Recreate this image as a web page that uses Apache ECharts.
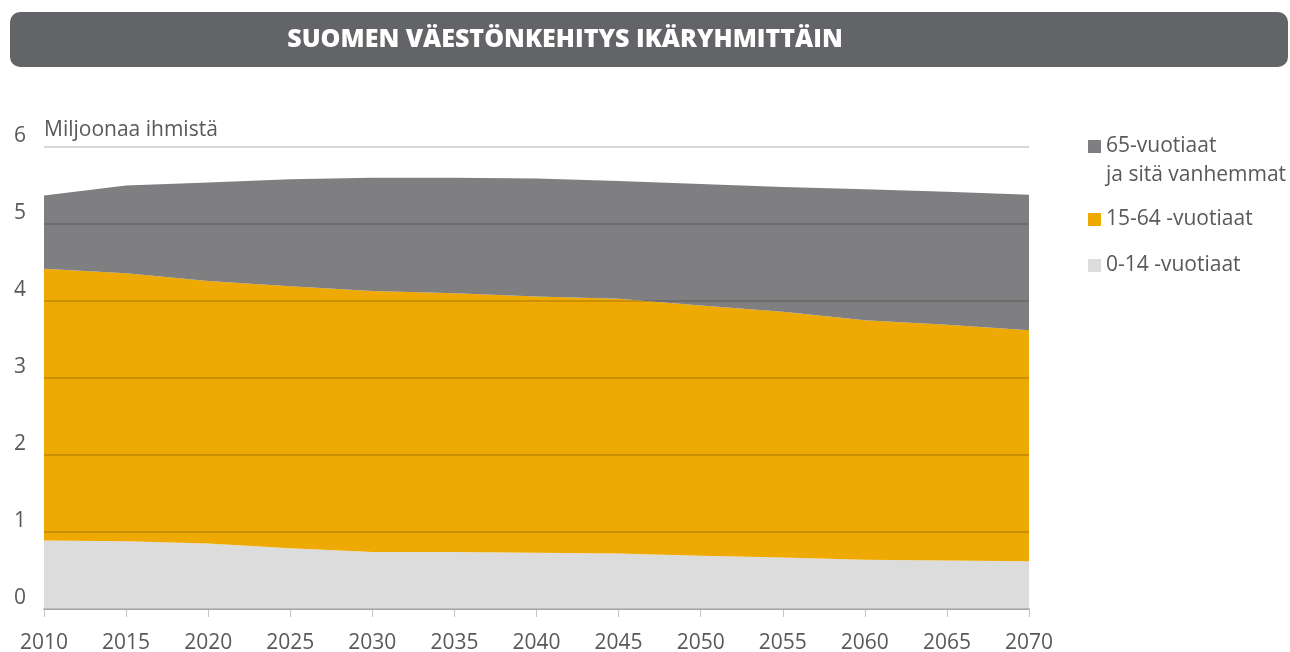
<!DOCTYPE html>
<html>
<head>
<meta charset="utf-8">
<script src="https://cdn.jsdelivr.net/npm/echarts@6/dist/echarts.min.js"></script>
<style>
  html, body { margin: 0; padding: 0; background: #fff; }
  #chart { width: 1290px; height: 652px; }
</style>
</head>
<body>
<div id="chart"></div>
<script>
// vuodet
var years = ['2010', '2015', '2020', '2025', '2030', '2035', '2040', '2045', '2050', '2055', '2060', '2065', '2070'];
// miljoonaa ihmistä, pinottu alhaalta ylös
var age0to14 = [0.89, 0.88, 0.85, 0.79, 0.74, 0.74, 0.73, 0.72, 0.69, 0.67, 0.64, 0.63, 0.62];
var age15to64 = [3.53, 3.48, 3.41, 3.40, 3.39, 3.36, 3.33, 3.31, 3.25, 3.19, 3.11, 3.06, 3.00];
var age65plus = [0.95, 1.14, 1.28, 1.39, 1.47, 1.50, 1.53, 1.53, 1.58, 1.62, 1.70, 1.73, 1.76];
var yTicks = [0, 1, 2, 3, 4, 5, 6];

var names = ['0-14 -vuotiaat', '15-64 -vuotiaat', '65-vuotiaat\nja sitä vanhemmat'];
var colors = ['#dcdcdc', '#eea903', '#7f7f81'];
var textColor = '#58595b';
var font = "'Open Sans', 'Noto Sans', sans-serif";

var myChart = echarts.init(document.getElementById('chart'));

// yksi legenda per rivi, jotta paikat saa kohdalleen
function legendAt(name, color, top, formatter) {
  return {
    data: [{ name: name, itemStyle: { color: color } }],
    left: 1083,
    top: top,
    orient: 'vertical',
    selectedMode: false,
    icon: 'rect',
    itemWidth: 13,
    itemHeight: 13,
    itemGap: 8,
    formatter: formatter,
    textStyle: { color: textColor, fontSize: 21, fontFamily: font, lineHeight: 29 }
  };
}

var option = {
  animation: false,
  graphic: [
    {
      type: 'rect',
      shape: { x: 10, y: 12, width: 1278, height: 55, r: 10 },
      style: { fill: '#636467' }
    },
    {
      type: 'text',
      x: 565,
      y: 40,
      style: {
        text: 'SUOMEN VÄESTÖNKEHITYS IKÄRYHMITTÄIN',
        fill: '#ffffff',
        font: "800 25px 'Open Sans', sans-serif",
        align: 'center',
        verticalAlign: 'middle'
      }
    }
  ],
  legend: [
    // tyhjä rivi ylös, jolloin ikoni osuu ensimmäisen rivin kohdalle
    legendAt(names[2], colors[2], 98, function (n) { return '\n' + n; }),
    legendAt(names[1], colors[1], 200),
    legendAt(names[0], colors[0], 246)
  ],
  grid: { left: 44, right: 261, top: 147, bottom: 43, containLabel: false, outerBoundsMode: 'none' },
  xAxis: {
    type: 'category',
    data: years,
    boundaryGap: false,
    axisLine: { lineStyle: { color: '#c4c4c4', width: 2 } },
    axisTick: { length: 8, lineStyle: { color: '#c4c4c4', width: 1 } },
    axisLabel: { color: textColor, fontSize: 21, fontFamily: font, margin: 24 }
  },
  yAxis: {
    type: 'value',
    min: yTicks[0],
    max: yTicks[yTicks.length - 1],
    interval: 1,
    z: 10,
    name: 'Miljoonaa ihmistä',
    nameLocation: 'end',
    nameGap: 6,
    nameTextStyle: { color: textColor, fontSize: 21, fontFamily: font, align: 'left' },
    axisLine: { show: false },
    axisTick: { show: false },
    axisLabel: {
      color: textColor, fontSize: 21, fontFamily: font,
      margin: 18, verticalAlign: 'bottom'
    },
    splitLine: { lineStyle: { color: 'rgba(0,0,0,0.2)', width: 1.5 } }
  },
  series: [
    { name: names[0], data: age0to14 },
    { name: names[1], data: age15to64 },
    { name: names[2], data: age65plus }
  ].map(function (s, i) {
    return {
      name: s.name,
      type: 'line',
      stack: 'vaesto',
      data: s.data,
      symbol: 'none',
      lineStyle: { width: 0 },
      itemStyle: { color: colors[i] },
      areaStyle: { color: colors[i], opacity: 1 }
    };
  })
};

myChart.setOption(option);
</script>
</body>
</html>
